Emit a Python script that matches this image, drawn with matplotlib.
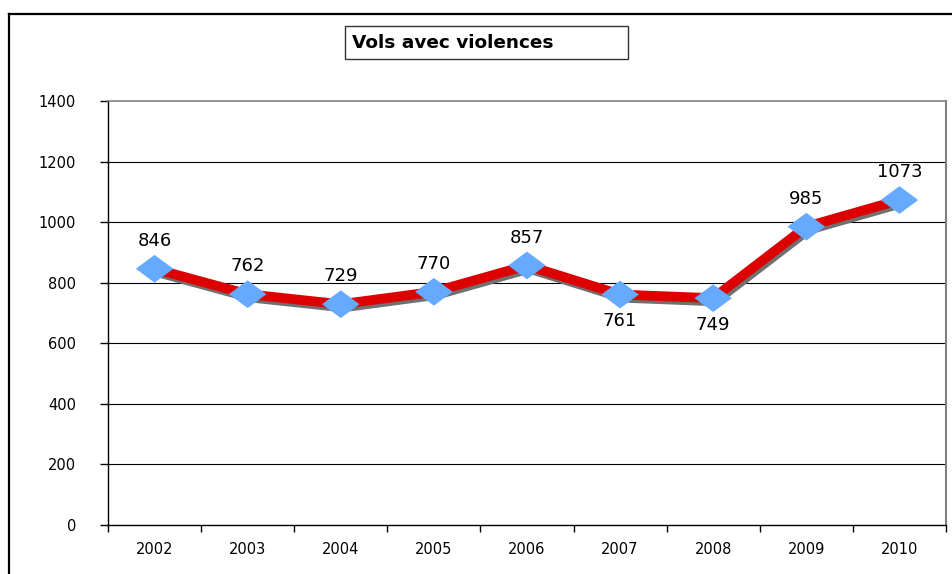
import matplotlib
matplotlib.use("Agg")
import matplotlib.pyplot as plt
import matplotlib.patheffects as pe
from matplotlib.lines import Line2D
from matplotlib.path import Path

years = ["2002", "2003", "2004", "2005", "2006", "2007", "2008", "2009", "2010"]
values = [846, 762, 729, 770, 857, 761, 749, 985, 1073]
label_below = [False, False, False, False, False, True, True, False, False]
title = "Vols avec violences"
yticks = [0, 200, 400, 600, 800, 1000, 1200, 1400]

W, H = 953, 574
fig = plt.figure(figsize=(W / 100, H / 100), dpi=100)
fig.patch.set_facecolor("white")

# outer frame (top and left edges)
fig.add_artist(Line2D([9 / W, 1.0], [1 - 14 / H, 1 - 14 / H], color="black", lw=1.6))
fig.add_artist(Line2D([9 / W, 9 / W], [0, 1 - 14 / H], color="black", lw=1.6))

ax = fig.add_axes([108 / W, 49 / H, 838 / W, 424 / H])
n = len(years)
xs = list(range(n))
ax.set_xlim(-0.5, n - 0.5)
ax.set_ylim(0, 1400)

for y in yticks[1:-1]:
    ax.axhline(y, color="black", lw=0.8, zorder=1)

ax.spines["left"].set_color("black")
ax.spines["bottom"].set_color("black")
ax.spines["top"].set_color("#808080")
ax.spines["right"].set_color("#808080")
ax.spines["top"].set_linewidth(1.2)
ax.spines["right"].set_linewidth(1.5)
ax.spines["left"].set_linewidth(1.0)
ax.spines["bottom"].set_linewidth(1.0)

ax.set_yticks(yticks)
ax.set_yticklabels([str(v) for v in yticks], fontsize=10.5)
ax.tick_params(axis="y", direction="out", length=6, width=1.0, pad=17)
ax.set_xticks([i - 0.5 for i in range(n + 1)], minor=False)
ax.set_xticklabels([""] * (n + 1))
ax.set_xticks(xs, minor=True)
ax.set_xticklabels(years, minor=True, fontsize=10.5)
ax.tick_params(axis="x", which="major", direction="out", length=5, width=1.0)
ax.tick_params(axis="x", which="minor", length=0, pad=12)

diamond = Path([(-1, 0), (0, 0.74), (1, 0), (0, -0.74), (-1, 0)],
               [Path.MOVETO, Path.LINETO, Path.LINETO, Path.LINETO, Path.CLOSEPOLY])

shadow = [pe.SimpleLineShadow(offset=(1.5, -2.3), shadow_color="#707070", alpha=1.0), pe.Normal()]
ax.plot(xs, values, color="#dd0000", lw=7, solid_joinstyle="miter", zorder=3,
        path_effects=shadow)
ax.plot(xs, values, linestyle="none", marker=diamond, ms=27, color="#66aaff",
        markeredgewidth=0, zorder=4,
        path_effects=[pe.SimpleLineShadow(offset=(1.5, -2.3), shadow_color="#707070", alpha=1.0), pe.Normal()])

for x, v, below in zip(xs, values, label_below):
    off = -19 if below else 20
    ax.annotate(str(v), (x, v), xytext=(0, off), textcoords="offset points",
                ha="center", va="center", fontsize=13, color="black", zorder=5)

fig.text(352 / W, 1 - 43 / H, title, fontsize=13.3, fontweight="bold", ha="left", va="center")
fig.add_artist(plt.Rectangle((345 / W, 1 - 59 / H), 283 / W, 33 / H, fill=False,
                             ec="#333333", lw=1.0, transform=fig.transFigure))

fig.savefig("out.png", dpi=100)
